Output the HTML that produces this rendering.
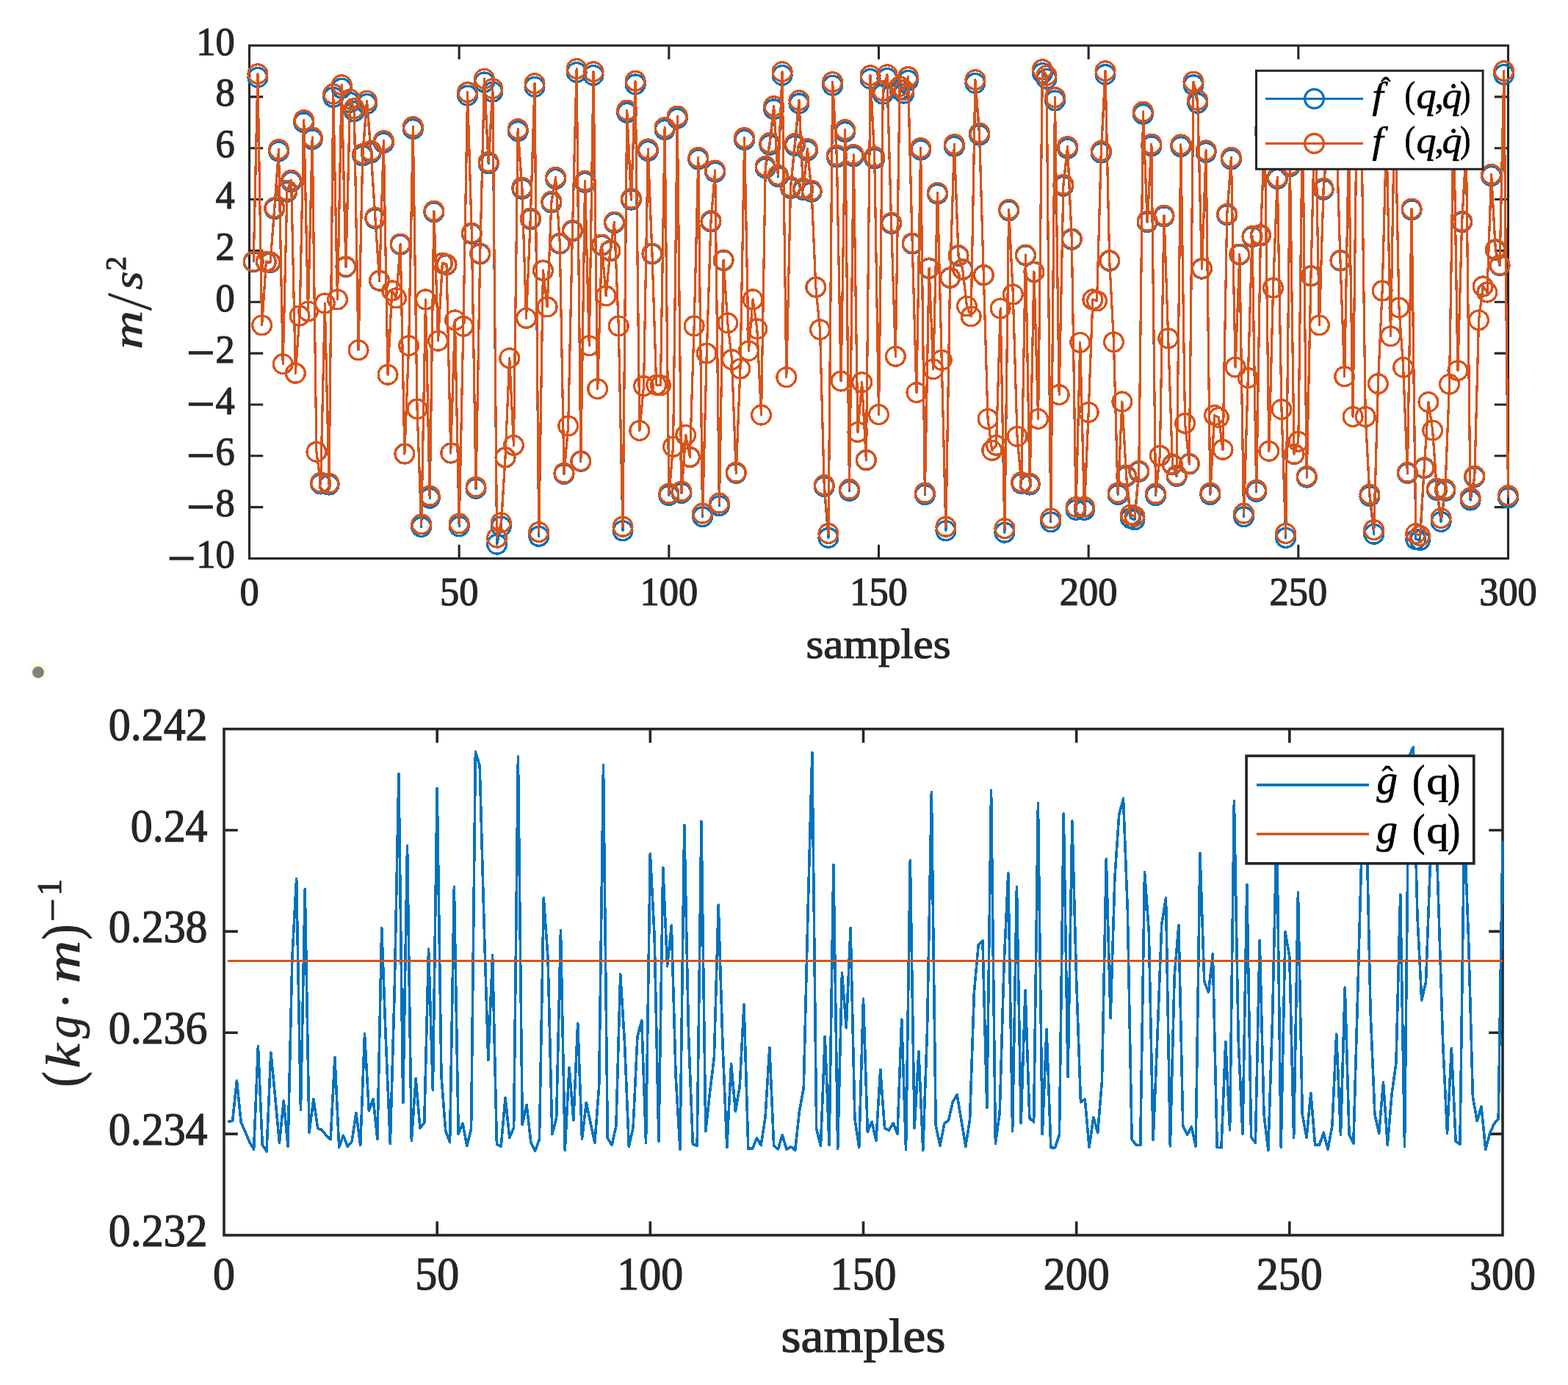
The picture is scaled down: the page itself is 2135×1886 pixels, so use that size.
<!DOCTYPE html>
<html lang="en"><head><meta charset="utf-8"><title>Estimation results</title>
<style>html,body{margin:0;padding:0;background:#fff}body{width:2135px;height:1886px;overflow:hidden}svg{display:block}text{font-family:"Liberation Serif",serif;fill:#262626}.i{font-style:italic}.k{fill:#000;stroke:#000}</style></head><body>
<svg width="2135" height="1886" viewBox="0 0 2135 1886" role="img" aria-label="Estimated and true f and g over 300 samples">
<rect width="2135" height="1886" fill="#fff"/>
<g stroke="#262626" stroke-width="3.1" fill="none" stroke-linecap="butt"><rect x="339.5" y="62" width="1714" height="698.5"/><path d="M625.17 760.5v-18.7 M625.17 62v18.7"/><path d="M910.83 760.5v-18.7 M910.83 62v18.7"/><path d="M1196.5 760.5v-18.7 M1196.5 62v18.7"/><path d="M1482.17 760.5v-18.7 M1482.17 62v18.7"/><path d="M1767.83 760.5v-18.7 M1767.83 62v18.7"/><path d="M339.5 690.65h18.7 M2053.5 690.65h-18.7"/><path d="M339.5 620.8h18.7 M2053.5 620.8h-18.7"/><path d="M339.5 550.95h18.7 M2053.5 550.95h-18.7"/><path d="M339.5 481.1h18.7 M2053.5 481.1h-18.7"/><path d="M339.5 411.25h18.7 M2053.5 411.25h-18.7"/><path d="M339.5 341.4h18.7 M2053.5 341.4h-18.7"/><path d="M339.5 271.55h18.7 M2053.5 271.55h-18.7"/><path d="M339.5 201.7h18.7 M2053.5 201.7h-18.7"/><path d="M339.5 131.85h18.7 M2053.5 131.85h-18.7"/></g>
<g id="top-data" shape-rendering="crispEdges">
<polyline points="345.21,356.71 350.93,105.43 356.64,442.87 362.35,356.71 368.07,357.69 373.78,284.5 379.49,206.18 385.21,495.7 390.92,261.28 396.63,247.5 402.35,508.26 408.06,429.92 413.77,166.83 419.49,423.94 425.2,189.85 430.91,615.36 436.63,659.02 442.34,412.97 448.05,660.06 453.77,132.42 459.48,407.87 465.19,120.21 470.91,363.6 476.62,139.52 482.33,151.73 488.05,476.76 493.76,212.08 499.47,141.49 505.19,208.15 510.9,297.68 516.61,382.29 522.33,194.38 528.04,510.25 533.75,396.06 539.47,405.9 545.18,333.1 550.89,618.07 556.61,470.78 562.32,175.68 568.03,556.89 573.75,717.47 579.46,407.87 585.17,678.38 590.89,288.82 596.6,464.2 602.31,358.68 608.03,360.64 613.74,617.03 619.45,435.9 625.17,716.81 630.88,444.27 636.59,130.06 642.31,318.34 648.02,665.26 653.73,345.89 659.45,111.93 665.16,222.91 670.87,125.13 676.59,741.15 682.3,716.98 688.01,623.05 693.73,487.72 699.44,606.33 705.15,178.63 710.87,257.34 716.58,433.31 722.29,298.66 728.01,118.24 733.72,730.33 739.43,368.51 745.15,417.96 750.86,276.03 756.57,243.57 762.29,332.11 768,645.51 773.71,580.02 779.43,314.8 785.14,98.54 790.85,628.25 796.57,248.49 802.28,470.78 807.99,102.48 813.71,529.58 819.42,334.08 825.13,402.95 830.85,341.95 836.56,303.58 842.27,443.87 847.99,722.73 853.7,153.45 859.41,272.1 865.13,114.89 870.84,586.4 876.55,525.6 882.27,205.59 887.98,345.89 893.69,524.2 899.41,524.6 905.12,176.67 910.83,674.61 916.55,608.32 922.26,161.32 927.97,671.49 933.69,592.38 939.4,622.64 945.11,443.87 950.83,217 956.54,703.63 962.25,481.15 967.97,302.01 973.68,234.32 979.39,688.85 985.11,354.74 990.82,439.88 996.53,489.72 1002.25,644.47 1007.96,502.08 1013.67,190.44 1019.39,477.76 1025.1,407.87 1030.81,447.86 1036.53,565.07 1042.24,228.81 1047.95,197.33 1053.67,148.78 1059.38,240.62 1065.09,102.48 1070.81,513.64 1076.52,256.36 1082.23,198.31 1087.95,140.9 1093.66,258.33 1099.37,205.2 1105.09,261.28 1110.8,391.14 1116.51,448.85 1122.23,662.56 1127.94,732.38 1133.65,116.27 1139.37,214.05 1145.08,519.02 1150.79,179.62 1156.51,668.38 1162.22,213.07 1167.93,588.39 1173.65,520.61 1179.36,626.8 1185.07,107.4 1190.79,216.02 1196.5,564.47 1202.21,128.09 1207.93,106.42 1213.64,304.57 1219.35,485.33 1225.07,122.18 1230.78,127.1 1236.49,109.37 1242.21,332.11 1247.92,534.57 1253.63,204.21 1259.35,673.57 1265.06,365.56 1270.77,502.67 1276.49,264.23 1282.2,490.32 1287.91,722.73 1293.63,378.35 1299.34,199.29 1305.05,348.44 1310.77,367.14 1316.48,416.96 1322.19,430.91 1327.91,113.31 1333.62,183.95 1339.33,374.81 1345.05,570.45 1350.76,613.31 1356.47,606.33 1362.19,419.95 1367.9,725.19 1373.61,286.86 1379.33,400.98 1385.04,594.37 1390.75,658.4 1396.47,347.85 1402.18,660.06 1407.89,370.48 1413.61,570.45 1419.32,99.52 1425.03,107.4 1430.75,710.82 1436.46,136.96 1442.17,537.56 1447.89,253.41 1453.6,202.25 1459.31,326.21 1465.03,694.4 1470.74,466.4 1476.45,694.4 1482.17,561.48 1487.88,407.87 1493.59,409.84 1499.31,208.15 1505.02,101.49 1510.73,355.33 1516.45,465.8 1522.16,673.57 1527.87,546.93 1533.59,648.63 1539.3,705.69 1545.01,707.74 1550.73,642.39 1556.44,155.42 1562.15,302.6 1567.87,198.9 1573.58,674.61 1579.29,620.56 1585.01,294.73 1590.72,460.81 1596.43,633.03 1602.15,648.63 1607.86,199.69 1613.57,576.43 1619.29,631.99 1625,115.68 1630.71,140.5 1636.43,366.15 1642.14,207.56 1647.85,673.57 1653.57,565.47 1659.28,568.46 1664.99,612.31 1670.71,292.76 1676.42,217 1682.13,500.08 1687.85,346.87 1693.56,703.63 1699.27,514.63 1704.99,322.67 1710.7,669.42 1716.41,320.9 1722.13,180.01 1727.84,614.32 1733.55,392.13 1739.27,243.57 1744.98,557.49 1750.69,732.38 1756.41,226.84 1762.12,618.48 1767.83,601.35 1773.55,163.03 1779.26,650.08 1784.97,375.99 1790.69,138.54 1796.4,442.87 1802.11,258.33 1807.83,190.61 1813.54,124.73 1819.25,169.92 1824.97,355.13 1830.68,512.64 1836.39,200.95 1842.11,567.46 1847.82,114.38 1853.53,152.69 1859.25,567.46 1864.96,675.65 1870.67,727.25 1876.39,522.61 1882.1,396.06 1887.81,183.72 1893.53,457.82 1899.24,131.64 1904.95,418.95 1910.67,500.28 1916.38,644.47 1922.09,285.87 1927.81,734.47 1933.52,735.46 1939.23,637.61 1944.95,547.52 1950.66,586 1956.37,667.34 1962.09,710.41 1967.8,668.38 1973.51,523.21 1979.23,159.58 1984.94,504.67 1990.65,302.6 1996.37,204.4 2002.08,681.05 2007.79,649.67 2013.51,435.9 2019.22,390.16 2024.93,398.03 2030.65,239.63 2036.36,340.57 2042.07,361.63 2047.79,101.49 2053.5,677.97" fill="none" stroke="#0072BD" stroke-width="3.2" stroke-linejoin="round"/>
<g fill="none" stroke="#0072BD" stroke-width="3.3"><circle cx="345.21" cy="356.71" r="12.9"/><circle cx="350.93" cy="105.43" r="12.9"/><circle cx="356.64" cy="442.87" r="12.9"/><circle cx="362.35" cy="356.71" r="12.9"/><circle cx="368.07" cy="357.69" r="12.9"/><circle cx="373.78" cy="284.5" r="12.9"/><circle cx="379.49" cy="206.18" r="12.9"/><circle cx="385.21" cy="495.7" r="12.9"/><circle cx="390.92" cy="261.28" r="12.9"/><circle cx="396.63" cy="247.5" r="12.9"/><circle cx="402.35" cy="508.26" r="12.9"/><circle cx="408.06" cy="429.92" r="12.9"/><circle cx="413.77" cy="166.83" r="12.9"/><circle cx="419.49" cy="423.94" r="12.9"/><circle cx="425.2" cy="189.85" r="12.9"/><circle cx="430.91" cy="615.36" r="12.9"/><circle cx="436.63" cy="659.02" r="12.9"/><circle cx="442.34" cy="412.97" r="12.9"/><circle cx="448.05" cy="660.06" r="12.9"/><circle cx="453.77" cy="132.42" r="12.9"/><circle cx="459.48" cy="407.87" r="12.9"/><circle cx="465.19" cy="120.21" r="12.9"/><circle cx="470.91" cy="363.6" r="12.9"/><circle cx="476.62" cy="139.52" r="12.9"/><circle cx="482.33" cy="151.73" r="12.9"/><circle cx="488.05" cy="476.76" r="12.9"/><circle cx="493.76" cy="212.08" r="12.9"/><circle cx="499.47" cy="141.49" r="12.9"/><circle cx="505.19" cy="208.15" r="12.9"/><circle cx="510.9" cy="297.68" r="12.9"/><circle cx="516.61" cy="382.29" r="12.9"/><circle cx="522.33" cy="194.38" r="12.9"/><circle cx="528.04" cy="510.25" r="12.9"/><circle cx="533.75" cy="396.06" r="12.9"/><circle cx="539.47" cy="405.9" r="12.9"/><circle cx="545.18" cy="333.1" r="12.9"/><circle cx="550.89" cy="618.07" r="12.9"/><circle cx="556.61" cy="470.78" r="12.9"/><circle cx="562.32" cy="175.68" r="12.9"/><circle cx="568.03" cy="556.89" r="12.9"/><circle cx="573.75" cy="717.47" r="12.9"/><circle cx="579.46" cy="407.87" r="12.9"/><circle cx="585.17" cy="678.38" r="12.9"/><circle cx="590.89" cy="288.82" r="12.9"/><circle cx="596.6" cy="464.2" r="12.9"/><circle cx="602.31" cy="358.68" r="12.9"/><circle cx="608.03" cy="360.64" r="12.9"/><circle cx="613.74" cy="617.03" r="12.9"/><circle cx="619.45" cy="435.9" r="12.9"/><circle cx="625.17" cy="716.81" r="12.9"/><circle cx="630.88" cy="444.27" r="12.9"/><circle cx="636.59" cy="130.06" r="12.9"/><circle cx="642.31" cy="318.34" r="12.9"/><circle cx="648.02" cy="665.26" r="12.9"/><circle cx="653.73" cy="345.89" r="12.9"/><circle cx="659.45" cy="111.93" r="12.9"/><circle cx="665.16" cy="222.91" r="12.9"/><circle cx="670.87" cy="125.13" r="12.9"/><circle cx="676.59" cy="741.15" r="12.9"/><circle cx="682.3" cy="716.98" r="12.9"/><circle cx="688.01" cy="623.05" r="12.9"/><circle cx="693.73" cy="487.72" r="12.9"/><circle cx="699.44" cy="606.33" r="12.9"/><circle cx="705.15" cy="178.63" r="12.9"/><circle cx="710.87" cy="257.34" r="12.9"/><circle cx="716.58" cy="433.31" r="12.9"/><circle cx="722.29" cy="298.66" r="12.9"/><circle cx="728.01" cy="118.24" r="12.9"/><circle cx="733.72" cy="730.33" r="12.9"/><circle cx="739.43" cy="368.51" r="12.9"/><circle cx="745.15" cy="417.96" r="12.9"/><circle cx="750.86" cy="276.03" r="12.9"/><circle cx="756.57" cy="243.57" r="12.9"/><circle cx="762.29" cy="332.11" r="12.9"/><circle cx="768" cy="645.51" r="12.9"/><circle cx="773.71" cy="580.02" r="12.9"/><circle cx="779.43" cy="314.8" r="12.9"/><circle cx="785.14" cy="98.54" r="12.9"/><circle cx="790.85" cy="628.25" r="12.9"/><circle cx="796.57" cy="248.49" r="12.9"/><circle cx="802.28" cy="470.78" r="12.9"/><circle cx="807.99" cy="102.48" r="12.9"/><circle cx="813.71" cy="529.58" r="12.9"/><circle cx="819.42" cy="334.08" r="12.9"/><circle cx="825.13" cy="402.95" r="12.9"/><circle cx="830.85" cy="341.95" r="12.9"/><circle cx="836.56" cy="303.58" r="12.9"/><circle cx="842.27" cy="443.87" r="12.9"/><circle cx="847.99" cy="722.73" r="12.9"/><circle cx="853.7" cy="153.45" r="12.9"/><circle cx="859.41" cy="272.1" r="12.9"/><circle cx="865.13" cy="114.89" r="12.9"/><circle cx="870.84" cy="586.4" r="12.9"/><circle cx="876.55" cy="525.6" r="12.9"/><circle cx="882.27" cy="205.59" r="12.9"/><circle cx="887.98" cy="345.89" r="12.9"/><circle cx="893.69" cy="524.2" r="12.9"/><circle cx="899.41" cy="524.6" r="12.9"/><circle cx="905.12" cy="176.67" r="12.9"/><circle cx="910.83" cy="674.61" r="12.9"/><circle cx="916.55" cy="608.32" r="12.9"/><circle cx="922.26" cy="161.32" r="12.9"/><circle cx="927.97" cy="671.49" r="12.9"/><circle cx="933.69" cy="592.38" r="12.9"/><circle cx="939.4" cy="622.64" r="12.9"/><circle cx="945.11" cy="443.87" r="12.9"/><circle cx="950.83" cy="217" r="12.9"/><circle cx="956.54" cy="703.63" r="12.9"/><circle cx="962.25" cy="481.15" r="12.9"/><circle cx="967.97" cy="302.01" r="12.9"/><circle cx="973.68" cy="234.32" r="12.9"/><circle cx="979.39" cy="688.85" r="12.9"/><circle cx="985.11" cy="354.74" r="12.9"/><circle cx="990.82" cy="439.88" r="12.9"/><circle cx="996.53" cy="489.72" r="12.9"/><circle cx="1002.25" cy="644.47" r="12.9"/><circle cx="1007.96" cy="502.08" r="12.9"/><circle cx="1013.67" cy="190.44" r="12.9"/><circle cx="1019.39" cy="477.76" r="12.9"/><circle cx="1025.1" cy="407.87" r="12.9"/><circle cx="1030.81" cy="447.86" r="12.9"/><circle cx="1036.53" cy="565.07" r="12.9"/><circle cx="1042.24" cy="228.81" r="12.9"/><circle cx="1047.95" cy="197.33" r="12.9"/><circle cx="1053.67" cy="148.78" r="12.9"/><circle cx="1059.38" cy="240.62" r="12.9"/><circle cx="1065.09" cy="102.48" r="12.9"/><circle cx="1070.81" cy="513.64" r="12.9"/><circle cx="1076.52" cy="256.36" r="12.9"/><circle cx="1082.23" cy="198.31" r="12.9"/><circle cx="1087.95" cy="140.9" r="12.9"/><circle cx="1093.66" cy="258.33" r="12.9"/><circle cx="1099.37" cy="205.2" r="12.9"/><circle cx="1105.09" cy="261.28" r="12.9"/><circle cx="1110.8" cy="391.14" r="12.9"/><circle cx="1116.51" cy="448.85" r="12.9"/><circle cx="1122.23" cy="662.56" r="12.9"/><circle cx="1127.94" cy="732.38" r="12.9"/><circle cx="1133.65" cy="116.27" r="12.9"/><circle cx="1139.37" cy="214.05" r="12.9"/><circle cx="1145.08" cy="519.02" r="12.9"/><circle cx="1150.79" cy="179.62" r="12.9"/><circle cx="1156.51" cy="668.38" r="12.9"/><circle cx="1162.22" cy="213.07" r="12.9"/><circle cx="1167.93" cy="588.39" r="12.9"/><circle cx="1173.65" cy="520.61" r="12.9"/><circle cx="1179.36" cy="626.8" r="12.9"/><circle cx="1185.07" cy="107.4" r="12.9"/><circle cx="1190.79" cy="216.02" r="12.9"/><circle cx="1196.5" cy="564.47" r="12.9"/><circle cx="1202.21" cy="128.09" r="12.9"/><circle cx="1207.93" cy="106.42" r="12.9"/><circle cx="1213.64" cy="304.57" r="12.9"/><circle cx="1219.35" cy="485.33" r="12.9"/><circle cx="1225.07" cy="122.18" r="12.9"/><circle cx="1230.78" cy="127.1" r="12.9"/><circle cx="1236.49" cy="109.37" r="12.9"/><circle cx="1242.21" cy="332.11" r="12.9"/><circle cx="1247.92" cy="534.57" r="12.9"/><circle cx="1253.63" cy="204.21" r="12.9"/><circle cx="1259.35" cy="673.57" r="12.9"/><circle cx="1265.06" cy="365.56" r="12.9"/><circle cx="1270.77" cy="502.67" r="12.9"/><circle cx="1276.49" cy="264.23" r="12.9"/><circle cx="1282.2" cy="490.32" r="12.9"/><circle cx="1287.91" cy="722.73" r="12.9"/><circle cx="1293.63" cy="378.35" r="12.9"/><circle cx="1299.34" cy="199.29" r="12.9"/><circle cx="1305.05" cy="348.44" r="12.9"/><circle cx="1310.77" cy="367.14" r="12.9"/><circle cx="1316.48" cy="416.96" r="12.9"/><circle cx="1322.19" cy="430.91" r="12.9"/><circle cx="1327.91" cy="113.31" r="12.9"/><circle cx="1333.62" cy="183.95" r="12.9"/><circle cx="1339.33" cy="374.81" r="12.9"/><circle cx="1345.05" cy="570.45" r="12.9"/><circle cx="1350.76" cy="613.31" r="12.9"/><circle cx="1356.47" cy="606.33" r="12.9"/><circle cx="1362.19" cy="419.95" r="12.9"/><circle cx="1367.9" cy="725.19" r="12.9"/><circle cx="1373.61" cy="286.86" r="12.9"/><circle cx="1379.33" cy="400.98" r="12.9"/><circle cx="1385.04" cy="594.37" r="12.9"/><circle cx="1390.75" cy="658.4" r="12.9"/><circle cx="1396.47" cy="347.85" r="12.9"/><circle cx="1402.18" cy="660.06" r="12.9"/><circle cx="1407.89" cy="370.48" r="12.9"/><circle cx="1413.61" cy="570.45" r="12.9"/><circle cx="1419.32" cy="99.52" r="12.9"/><circle cx="1425.03" cy="107.4" r="12.9"/><circle cx="1430.75" cy="710.82" r="12.9"/><circle cx="1436.46" cy="136.96" r="12.9"/><circle cx="1442.17" cy="537.56" r="12.9"/><circle cx="1447.89" cy="253.41" r="12.9"/><circle cx="1453.6" cy="202.25" r="12.9"/><circle cx="1459.31" cy="326.21" r="12.9"/><circle cx="1465.03" cy="694.4" r="12.9"/><circle cx="1470.74" cy="466.4" r="12.9"/><circle cx="1476.45" cy="694.4" r="12.9"/><circle cx="1482.17" cy="561.48" r="12.9"/><circle cx="1487.88" cy="407.87" r="12.9"/><circle cx="1493.59" cy="409.84" r="12.9"/><circle cx="1499.31" cy="208.15" r="12.9"/><circle cx="1505.02" cy="101.49" r="12.9"/><circle cx="1510.73" cy="355.33" r="12.9"/><circle cx="1516.45" cy="465.8" r="12.9"/><circle cx="1522.16" cy="673.57" r="12.9"/><circle cx="1527.87" cy="546.93" r="12.9"/><circle cx="1533.59" cy="648.63" r="12.9"/><circle cx="1539.3" cy="705.69" r="12.9"/><circle cx="1545.01" cy="707.74" r="12.9"/><circle cx="1550.73" cy="642.39" r="12.9"/><circle cx="1556.44" cy="155.42" r="12.9"/><circle cx="1562.15" cy="302.6" r="12.9"/><circle cx="1567.87" cy="198.9" r="12.9"/><circle cx="1573.58" cy="674.61" r="12.9"/><circle cx="1579.29" cy="620.56" r="12.9"/><circle cx="1585.01" cy="294.73" r="12.9"/><circle cx="1590.72" cy="460.81" r="12.9"/><circle cx="1596.43" cy="633.03" r="12.9"/><circle cx="1602.15" cy="648.63" r="12.9"/><circle cx="1607.86" cy="199.69" r="12.9"/><circle cx="1613.57" cy="576.43" r="12.9"/><circle cx="1619.29" cy="631.99" r="12.9"/><circle cx="1625" cy="115.68" r="12.9"/><circle cx="1630.71" cy="140.5" r="12.9"/><circle cx="1636.43" cy="366.15" r="12.9"/><circle cx="1642.14" cy="207.56" r="12.9"/><circle cx="1647.85" cy="673.57" r="12.9"/><circle cx="1653.57" cy="565.47" r="12.9"/><circle cx="1659.28" cy="568.46" r="12.9"/><circle cx="1664.99" cy="612.31" r="12.9"/><circle cx="1670.71" cy="292.76" r="12.9"/><circle cx="1676.42" cy="217" r="12.9"/><circle cx="1682.13" cy="500.08" r="12.9"/><circle cx="1687.85" cy="346.87" r="12.9"/><circle cx="1693.56" cy="703.63" r="12.9"/><circle cx="1699.27" cy="514.63" r="12.9"/><circle cx="1704.99" cy="322.67" r="12.9"/><circle cx="1710.7" cy="669.42" r="12.9"/><circle cx="1716.41" cy="320.9" r="12.9"/><circle cx="1722.13" cy="180.01" r="12.9"/><circle cx="1727.84" cy="614.32" r="12.9"/><circle cx="1733.55" cy="392.13" r="12.9"/><circle cx="1739.27" cy="243.57" r="12.9"/><circle cx="1744.98" cy="557.49" r="12.9"/><circle cx="1750.69" cy="732.38" r="12.9"/><circle cx="1756.41" cy="226.84" r="12.9"/><circle cx="1762.12" cy="618.48" r="12.9"/><circle cx="1767.83" cy="601.35" r="12.9"/><circle cx="1773.55" cy="163.03" r="12.9"/><circle cx="1779.26" cy="650.08" r="12.9"/><circle cx="1784.97" cy="375.99" r="12.9"/><circle cx="1790.69" cy="138.54" r="12.9"/><circle cx="1796.4" cy="442.87" r="12.9"/><circle cx="1802.11" cy="258.33" r="12.9"/><circle cx="1807.83" cy="190.61" r="12.9"/><circle cx="1813.54" cy="124.73" r="12.9"/><circle cx="1819.25" cy="169.92" r="12.9"/><circle cx="1824.97" cy="355.13" r="12.9"/><circle cx="1830.68" cy="512.64" r="12.9"/><circle cx="1836.39" cy="200.95" r="12.9"/><circle cx="1842.11" cy="567.46" r="12.9"/><circle cx="1847.82" cy="114.38" r="12.9"/><circle cx="1853.53" cy="152.69" r="12.9"/><circle cx="1859.25" cy="567.46" r="12.9"/><circle cx="1864.96" cy="675.65" r="12.9"/><circle cx="1870.67" cy="727.25" r="12.9"/><circle cx="1876.39" cy="522.61" r="12.9"/><circle cx="1882.1" cy="396.06" r="12.9"/><circle cx="1887.81" cy="183.72" r="12.9"/><circle cx="1893.53" cy="457.82" r="12.9"/><circle cx="1899.24" cy="131.64" r="12.9"/><circle cx="1904.95" cy="418.95" r="12.9"/><circle cx="1910.67" cy="500.28" r="12.9"/><circle cx="1916.38" cy="644.47" r="12.9"/><circle cx="1922.09" cy="285.87" r="12.9"/><circle cx="1927.81" cy="734.47" r="12.9"/><circle cx="1933.52" cy="735.46" r="12.9"/><circle cx="1939.23" cy="637.61" r="12.9"/><circle cx="1944.95" cy="547.52" r="12.9"/><circle cx="1950.66" cy="586" r="12.9"/><circle cx="1956.37" cy="667.34" r="12.9"/><circle cx="1962.09" cy="710.41" r="12.9"/><circle cx="1967.8" cy="668.38" r="12.9"/><circle cx="1973.51" cy="523.21" r="12.9"/><circle cx="1979.23" cy="159.58" r="12.9"/><circle cx="1984.94" cy="504.67" r="12.9"/><circle cx="1990.65" cy="302.6" r="12.9"/><circle cx="1996.37" cy="204.4" r="12.9"/><circle cx="2002.08" cy="681.05" r="12.9"/><circle cx="2007.79" cy="649.67" r="12.9"/><circle cx="2013.51" cy="435.9" r="12.9"/><circle cx="2019.22" cy="390.16" r="12.9"/><circle cx="2024.93" cy="398.03" r="12.9"/><circle cx="2030.65" cy="239.63" r="12.9"/><circle cx="2036.36" cy="340.57" r="12.9"/><circle cx="2042.07" cy="361.63" r="12.9"/><circle cx="2047.79" cy="101.49" r="12.9"/><circle cx="2053.5" cy="677.97" r="12.9"/></g>
<polyline points="345.21,356 350.93,100.65 356.64,442.87 362.35,356 368.07,356.99 373.78,282.84 379.49,203.5 385.21,495.7 390.92,259.32 396.63,245.37 402.35,508.26 408.06,429.92 413.77,163.64 419.49,423.94 425.2,186.96 430.91,615.3 436.63,657.16 442.34,412.97 448.05,658.16 453.77,128.06 459.48,407.82 465.19,115.66 470.91,362.97 476.62,135.27 482.33,147.67 488.05,476.76 493.76,209.49 499.47,137.27 505.19,205.5 510.9,296.2 516.61,381.91 522.33,191.54 528.04,510.25 533.75,395.86 539.47,405.83 545.18,332.08 550.89,617.89 556.61,470.78 562.32,172.61 568.03,556.89 573.75,713.87 579.46,407.82 585.17,675.15 590.89,287.23 596.6,464.2 602.31,357.99 608.03,359.98 613.74,616.89 619.45,435.9 625.17,712.97 630.88,444.27 636.59,125.66 642.31,317.13 648.02,663.14 653.73,345.03 659.45,107.25 665.16,220.45 670.87,120.66 676.59,732.15 682.3,711.82 688.01,622.67 693.73,487.72 699.44,606.33 705.15,175.6 710.87,255.33 716.58,433.31 722.29,297.19 728.01,113.65 733.72,724.5 739.43,367.96 745.15,417.96 750.86,274.27 756.57,241.38 762.29,331.08 768,644.2 773.71,580.02 779.43,313.54 785.14,93.64 790.85,627.66 796.57,246.36 802.28,470.78 807.99,97.65 813.71,529.58 819.42,333.07 825.13,402.84 830.85,341.05 836.56,302.18 842.27,443.87 847.99,717.28 853.7,150.08 859.41,270.28 865.13,110.25 870.84,586.4 876.55,525.6 882.27,202.91 887.98,345.03 893.69,524.2 899.41,524.6 905.12,173.6 910.83,672.11 916.55,608.32 922.26,158.06 927.97,669.12 933.69,592.38 939.4,622.28 945.11,443.87 950.83,214.47 956.54,699.14 962.25,481.15 967.97,300.58 973.68,232.01 979.39,685.1 985.11,354 990.82,439.88 996.53,489.72 1002.25,643.21 1007.96,502.08 1013.67,187.56 1019.39,477.76 1025.1,407.82 1030.81,447.86 1036.53,565.07 1042.24,226.43 1047.95,194.53 1053.67,144.67 1059.38,238.39 1065.09,97.65 1070.81,513.64 1076.52,254.34 1082.23,195.53 1087.95,136.67 1093.66,256.33 1099.37,202.51 1105.09,259.32 1110.8,390.88 1116.51,448.85 1122.23,660.55 1127.94,726.45 1133.65,111.65 1139.37,211.48 1145.08,519.02 1150.79,176.59 1156.51,666.13 1162.22,210.48 1167.93,588.39 1173.65,520.61 1179.36,626.26 1185.07,102.65 1190.79,213.47 1196.5,564.47 1202.21,123.66 1207.93,101.65 1213.64,303.17 1219.35,485.33 1225.07,117.66 1230.78,122.66 1236.49,104.65 1242.21,331.08 1247.92,534.57 1253.63,201.51 1259.35,671.11 1265.06,364.97 1270.77,502.67 1276.49,262.31 1282.2,490.32 1287.91,717.28 1293.63,377.92 1299.34,196.53 1305.05,347.62 1310.77,366.56 1316.48,416.96 1322.19,430.91 1327.91,108.65 1333.62,180.98 1339.33,374.34 1345.05,570.45 1350.76,613.31 1356.47,606.33 1362.19,419.95 1367.9,719.62 1373.61,285.23 1379.33,400.85 1385.04,594.37 1390.75,656.56 1396.47,347.03 1402.18,658.16 1407.89,369.95 1413.61,570.45 1419.32,94.64 1425.03,102.65 1430.75,705.97 1436.46,132.66 1442.17,537.56 1447.89,251.35 1453.6,199.52 1459.31,325.1 1465.03,690.36 1470.74,466.4 1476.45,690.36 1482.17,561.48 1487.88,407.82 1493.59,409.82 1499.31,205.5 1505.02,96.65 1510.73,354.6 1516.45,465.8 1522.16,671.11 1527.87,546.93 1533.59,647.19 1539.3,701.09 1545.01,703.04 1550.73,641.21 1556.44,152.08 1562.15,301.18 1567.87,196.13 1573.58,672.11 1579.29,620.28 1585.01,293.21 1590.72,460.81 1596.43,632.24 1602.15,647.19 1607.86,196.93 1613.57,576.43 1619.29,631.25 1625,111.05 1630.71,136.27 1636.43,365.56 1642.14,204.9 1647.85,671.11 1653.57,565.47 1659.28,568.46 1664.99,612.31 1670.71,291.21 1676.42,214.47 1682.13,500.08 1687.85,346.03 1693.56,699.14 1699.27,514.63 1704.99,321.51 1710.7,667.13 1716.41,319.72 1722.13,176.99 1727.84,614.3 1733.55,391.88 1739.27,241.38 1744.98,557.49 1750.69,726.45 1756.41,224.44 1762.12,618.29 1767.83,601.35 1773.55,159.79 1779.26,648.59 1784.97,375.53 1790.69,134.28 1796.4,442.87 1802.11,256.33 1807.83,187.73 1813.54,120.25 1819.25,166.77 1824.97,354.4 1830.68,512.64 1836.39,198.21 1842.11,567.46 1847.82,109.73 1853.53,149.31 1859.25,567.46 1864.96,673.11 1870.67,721.57 1876.39,522.61 1882.1,395.86 1887.81,180.75 1893.53,457.82 1899.24,127.26 1904.95,418.95 1910.67,500.28 1916.38,643.21 1922.09,284.24 1927.81,726.67 1933.52,729.37 1939.23,636.63 1944.95,547.52 1950.66,586 1956.37,665.13 1962.09,705.58 1967.8,666.13 1973.51,523.21 1979.23,156.3 1984.94,504.67 1990.65,301.18 1996.37,201.7 2002.08,677.68 2007.79,648.19 2013.51,435.9 2019.22,389.88 2024.93,397.86 2030.65,237.39 2036.36,339.65 2042.07,360.98 2047.79,96.65 2053.5,674.76" fill="none" stroke="#D95319" stroke-width="3.2" stroke-linejoin="round"/>
<g fill="none" stroke="#D95319" stroke-width="3.3"><circle cx="345.21" cy="356" r="12.9"/><circle cx="350.93" cy="100.65" r="12.9"/><circle cx="356.64" cy="442.87" r="12.9"/><circle cx="362.35" cy="356" r="12.9"/><circle cx="368.07" cy="356.99" r="12.9"/><circle cx="373.78" cy="282.84" r="12.9"/><circle cx="379.49" cy="203.5" r="12.9"/><circle cx="385.21" cy="495.7" r="12.9"/><circle cx="390.92" cy="259.32" r="12.9"/><circle cx="396.63" cy="245.37" r="12.9"/><circle cx="402.35" cy="508.26" r="12.9"/><circle cx="408.06" cy="429.92" r="12.9"/><circle cx="413.77" cy="163.64" r="12.9"/><circle cx="419.49" cy="423.94" r="12.9"/><circle cx="425.2" cy="186.96" r="12.9"/><circle cx="430.91" cy="615.3" r="12.9"/><circle cx="436.63" cy="657.16" r="12.9"/><circle cx="442.34" cy="412.97" r="12.9"/><circle cx="448.05" cy="658.16" r="12.9"/><circle cx="453.77" cy="128.06" r="12.9"/><circle cx="459.48" cy="407.82" r="12.9"/><circle cx="465.19" cy="115.66" r="12.9"/><circle cx="470.91" cy="362.97" r="12.9"/><circle cx="476.62" cy="135.27" r="12.9"/><circle cx="482.33" cy="147.67" r="12.9"/><circle cx="488.05" cy="476.76" r="12.9"/><circle cx="493.76" cy="209.49" r="12.9"/><circle cx="499.47" cy="137.27" r="12.9"/><circle cx="505.19" cy="205.5" r="12.9"/><circle cx="510.9" cy="296.2" r="12.9"/><circle cx="516.61" cy="381.91" r="12.9"/><circle cx="522.33" cy="191.54" r="12.9"/><circle cx="528.04" cy="510.25" r="12.9"/><circle cx="533.75" cy="395.86" r="12.9"/><circle cx="539.47" cy="405.83" r="12.9"/><circle cx="545.18" cy="332.08" r="12.9"/><circle cx="550.89" cy="617.89" r="12.9"/><circle cx="556.61" cy="470.78" r="12.9"/><circle cx="562.32" cy="172.61" r="12.9"/><circle cx="568.03" cy="556.89" r="12.9"/><circle cx="573.75" cy="713.87" r="12.9"/><circle cx="579.46" cy="407.82" r="12.9"/><circle cx="585.17" cy="675.15" r="12.9"/><circle cx="590.89" cy="287.23" r="12.9"/><circle cx="596.6" cy="464.2" r="12.9"/><circle cx="602.31" cy="357.99" r="12.9"/><circle cx="608.03" cy="359.98" r="12.9"/><circle cx="613.74" cy="616.89" r="12.9"/><circle cx="619.45" cy="435.9" r="12.9"/><circle cx="625.17" cy="712.97" r="12.9"/><circle cx="630.88" cy="444.27" r="12.9"/><circle cx="636.59" cy="125.66" r="12.9"/><circle cx="642.31" cy="317.13" r="12.9"/><circle cx="648.02" cy="663.14" r="12.9"/><circle cx="653.73" cy="345.03" r="12.9"/><circle cx="659.45" cy="107.25" r="12.9"/><circle cx="665.16" cy="220.45" r="12.9"/><circle cx="670.87" cy="120.66" r="12.9"/><circle cx="676.59" cy="732.15" r="12.9"/><circle cx="682.3" cy="711.82" r="12.9"/><circle cx="688.01" cy="622.67" r="12.9"/><circle cx="693.73" cy="487.72" r="12.9"/><circle cx="699.44" cy="606.33" r="12.9"/><circle cx="705.15" cy="175.6" r="12.9"/><circle cx="710.87" cy="255.33" r="12.9"/><circle cx="716.58" cy="433.31" r="12.9"/><circle cx="722.29" cy="297.19" r="12.9"/><circle cx="728.01" cy="113.65" r="12.9"/><circle cx="733.72" cy="724.5" r="12.9"/><circle cx="739.43" cy="367.96" r="12.9"/><circle cx="745.15" cy="417.96" r="12.9"/><circle cx="750.86" cy="274.27" r="12.9"/><circle cx="756.57" cy="241.38" r="12.9"/><circle cx="762.29" cy="331.08" r="12.9"/><circle cx="768" cy="644.2" r="12.9"/><circle cx="773.71" cy="580.02" r="12.9"/><circle cx="779.43" cy="313.54" r="12.9"/><circle cx="785.14" cy="93.64" r="12.9"/><circle cx="790.85" cy="627.66" r="12.9"/><circle cx="796.57" cy="246.36" r="12.9"/><circle cx="802.28" cy="470.78" r="12.9"/><circle cx="807.99" cy="97.65" r="12.9"/><circle cx="813.71" cy="529.58" r="12.9"/><circle cx="819.42" cy="333.07" r="12.9"/><circle cx="825.13" cy="402.84" r="12.9"/><circle cx="830.85" cy="341.05" r="12.9"/><circle cx="836.56" cy="302.18" r="12.9"/><circle cx="842.27" cy="443.87" r="12.9"/><circle cx="847.99" cy="717.28" r="12.9"/><circle cx="853.7" cy="150.08" r="12.9"/><circle cx="859.41" cy="270.28" r="12.9"/><circle cx="865.13" cy="110.25" r="12.9"/><circle cx="870.84" cy="586.4" r="12.9"/><circle cx="876.55" cy="525.6" r="12.9"/><circle cx="882.27" cy="202.91" r="12.9"/><circle cx="887.98" cy="345.03" r="12.9"/><circle cx="893.69" cy="524.2" r="12.9"/><circle cx="899.41" cy="524.6" r="12.9"/><circle cx="905.12" cy="173.6" r="12.9"/><circle cx="910.83" cy="672.11" r="12.9"/><circle cx="916.55" cy="608.32" r="12.9"/><circle cx="922.26" cy="158.06" r="12.9"/><circle cx="927.97" cy="669.12" r="12.9"/><circle cx="933.69" cy="592.38" r="12.9"/><circle cx="939.4" cy="622.28" r="12.9"/><circle cx="945.11" cy="443.87" r="12.9"/><circle cx="950.83" cy="214.47" r="12.9"/><circle cx="956.54" cy="699.14" r="12.9"/><circle cx="962.25" cy="481.15" r="12.9"/><circle cx="967.97" cy="300.58" r="12.9"/><circle cx="973.68" cy="232.01" r="12.9"/><circle cx="979.39" cy="685.1" r="12.9"/><circle cx="985.11" cy="354" r="12.9"/><circle cx="990.82" cy="439.88" r="12.9"/><circle cx="996.53" cy="489.72" r="12.9"/><circle cx="1002.25" cy="643.21" r="12.9"/><circle cx="1007.96" cy="502.08" r="12.9"/><circle cx="1013.67" cy="187.56" r="12.9"/><circle cx="1019.39" cy="477.76" r="12.9"/><circle cx="1025.1" cy="407.82" r="12.9"/><circle cx="1030.81" cy="447.86" r="12.9"/><circle cx="1036.53" cy="565.07" r="12.9"/><circle cx="1042.24" cy="226.43" r="12.9"/><circle cx="1047.95" cy="194.53" r="12.9"/><circle cx="1053.67" cy="144.67" r="12.9"/><circle cx="1059.38" cy="238.39" r="12.9"/><circle cx="1065.09" cy="97.65" r="12.9"/><circle cx="1070.81" cy="513.64" r="12.9"/><circle cx="1076.52" cy="254.34" r="12.9"/><circle cx="1082.23" cy="195.53" r="12.9"/><circle cx="1087.95" cy="136.67" r="12.9"/><circle cx="1093.66" cy="256.33" r="12.9"/><circle cx="1099.37" cy="202.51" r="12.9"/><circle cx="1105.09" cy="259.32" r="12.9"/><circle cx="1110.8" cy="390.88" r="12.9"/><circle cx="1116.51" cy="448.85" r="12.9"/><circle cx="1122.23" cy="660.55" r="12.9"/><circle cx="1127.94" cy="726.45" r="12.9"/><circle cx="1133.65" cy="111.65" r="12.9"/><circle cx="1139.37" cy="211.48" r="12.9"/><circle cx="1145.08" cy="519.02" r="12.9"/><circle cx="1150.79" cy="176.59" r="12.9"/><circle cx="1156.51" cy="666.13" r="12.9"/><circle cx="1162.22" cy="210.48" r="12.9"/><circle cx="1167.93" cy="588.39" r="12.9"/><circle cx="1173.65" cy="520.61" r="12.9"/><circle cx="1179.36" cy="626.26" r="12.9"/><circle cx="1185.07" cy="102.65" r="12.9"/><circle cx="1190.79" cy="213.47" r="12.9"/><circle cx="1196.5" cy="564.47" r="12.9"/><circle cx="1202.21" cy="123.66" r="12.9"/><circle cx="1207.93" cy="101.65" r="12.9"/><circle cx="1213.64" cy="303.17" r="12.9"/><circle cx="1219.35" cy="485.33" r="12.9"/><circle cx="1225.07" cy="117.66" r="12.9"/><circle cx="1230.78" cy="122.66" r="12.9"/><circle cx="1236.49" cy="104.65" r="12.9"/><circle cx="1242.21" cy="331.08" r="12.9"/><circle cx="1247.92" cy="534.57" r="12.9"/><circle cx="1253.63" cy="201.51" r="12.9"/><circle cx="1259.35" cy="671.11" r="12.9"/><circle cx="1265.06" cy="364.97" r="12.9"/><circle cx="1270.77" cy="502.67" r="12.9"/><circle cx="1276.49" cy="262.31" r="12.9"/><circle cx="1282.2" cy="490.32" r="12.9"/><circle cx="1287.91" cy="717.28" r="12.9"/><circle cx="1293.63" cy="377.92" r="12.9"/><circle cx="1299.34" cy="196.53" r="12.9"/><circle cx="1305.05" cy="347.62" r="12.9"/><circle cx="1310.77" cy="366.56" r="12.9"/><circle cx="1316.48" cy="416.96" r="12.9"/><circle cx="1322.19" cy="430.91" r="12.9"/><circle cx="1327.91" cy="108.65" r="12.9"/><circle cx="1333.62" cy="180.98" r="12.9"/><circle cx="1339.33" cy="374.34" r="12.9"/><circle cx="1345.05" cy="570.45" r="12.9"/><circle cx="1350.76" cy="613.31" r="12.9"/><circle cx="1356.47" cy="606.33" r="12.9"/><circle cx="1362.19" cy="419.95" r="12.9"/><circle cx="1367.9" cy="719.62" r="12.9"/><circle cx="1373.61" cy="285.23" r="12.9"/><circle cx="1379.33" cy="400.85" r="12.9"/><circle cx="1385.04" cy="594.37" r="12.9"/><circle cx="1390.75" cy="656.56" r="12.9"/><circle cx="1396.47" cy="347.03" r="12.9"/><circle cx="1402.18" cy="658.16" r="12.9"/><circle cx="1407.89" cy="369.95" r="12.9"/><circle cx="1413.61" cy="570.45" r="12.9"/><circle cx="1419.32" cy="94.64" r="12.9"/><circle cx="1425.03" cy="102.65" r="12.9"/><circle cx="1430.75" cy="705.97" r="12.9"/><circle cx="1436.46" cy="132.66" r="12.9"/><circle cx="1442.17" cy="537.56" r="12.9"/><circle cx="1447.89" cy="251.35" r="12.9"/><circle cx="1453.6" cy="199.52" r="12.9"/><circle cx="1459.31" cy="325.1" r="12.9"/><circle cx="1465.03" cy="690.36" r="12.9"/><circle cx="1470.74" cy="466.4" r="12.9"/><circle cx="1476.45" cy="690.36" r="12.9"/><circle cx="1482.17" cy="561.48" r="12.9"/><circle cx="1487.88" cy="407.82" r="12.9"/><circle cx="1493.59" cy="409.82" r="12.9"/><circle cx="1499.31" cy="205.5" r="12.9"/><circle cx="1505.02" cy="96.65" r="12.9"/><circle cx="1510.73" cy="354.6" r="12.9"/><circle cx="1516.45" cy="465.8" r="12.9"/><circle cx="1522.16" cy="671.11" r="12.9"/><circle cx="1527.87" cy="546.93" r="12.9"/><circle cx="1533.59" cy="647.19" r="12.9"/><circle cx="1539.3" cy="701.09" r="12.9"/><circle cx="1545.01" cy="703.04" r="12.9"/><circle cx="1550.73" cy="641.21" r="12.9"/><circle cx="1556.44" cy="152.08" r="12.9"/><circle cx="1562.15" cy="301.18" r="12.9"/><circle cx="1567.87" cy="196.13" r="12.9"/><circle cx="1573.58" cy="672.11" r="12.9"/><circle cx="1579.29" cy="620.28" r="12.9"/><circle cx="1585.01" cy="293.21" r="12.9"/><circle cx="1590.72" cy="460.81" r="12.9"/><circle cx="1596.43" cy="632.24" r="12.9"/><circle cx="1602.15" cy="647.19" r="12.9"/><circle cx="1607.86" cy="196.93" r="12.9"/><circle cx="1613.57" cy="576.43" r="12.9"/><circle cx="1619.29" cy="631.25" r="12.9"/><circle cx="1625" cy="111.05" r="12.9"/><circle cx="1630.71" cy="136.27" r="12.9"/><circle cx="1636.43" cy="365.56" r="12.9"/><circle cx="1642.14" cy="204.9" r="12.9"/><circle cx="1647.85" cy="671.11" r="12.9"/><circle cx="1653.57" cy="565.47" r="12.9"/><circle cx="1659.28" cy="568.46" r="12.9"/><circle cx="1664.99" cy="612.31" r="12.9"/><circle cx="1670.71" cy="291.21" r="12.9"/><circle cx="1676.42" cy="214.47" r="12.9"/><circle cx="1682.13" cy="500.08" r="12.9"/><circle cx="1687.85" cy="346.03" r="12.9"/><circle cx="1693.56" cy="699.14" r="12.9"/><circle cx="1699.27" cy="514.63" r="12.9"/><circle cx="1704.99" cy="321.51" r="12.9"/><circle cx="1710.7" cy="667.13" r="12.9"/><circle cx="1716.41" cy="319.72" r="12.9"/><circle cx="1722.13" cy="176.99" r="12.9"/><circle cx="1727.84" cy="614.3" r="12.9"/><circle cx="1733.55" cy="391.88" r="12.9"/><circle cx="1739.27" cy="241.38" r="12.9"/><circle cx="1744.98" cy="557.49" r="12.9"/><circle cx="1750.69" cy="726.45" r="12.9"/><circle cx="1756.41" cy="224.44" r="12.9"/><circle cx="1762.12" cy="618.29" r="12.9"/><circle cx="1767.83" cy="601.35" r="12.9"/><circle cx="1773.55" cy="159.79" r="12.9"/><circle cx="1779.26" cy="648.59" r="12.9"/><circle cx="1784.97" cy="375.53" r="12.9"/><circle cx="1790.69" cy="134.28" r="12.9"/><circle cx="1796.4" cy="442.87" r="12.9"/><circle cx="1802.11" cy="256.33" r="12.9"/><circle cx="1807.83" cy="187.73" r="12.9"/><circle cx="1813.54" cy="120.25" r="12.9"/><circle cx="1819.25" cy="166.77" r="12.9"/><circle cx="1824.97" cy="354.4" r="12.9"/><circle cx="1830.68" cy="512.64" r="12.9"/><circle cx="1836.39" cy="198.21" r="12.9"/><circle cx="1842.11" cy="567.46" r="12.9"/><circle cx="1847.82" cy="109.73" r="12.9"/><circle cx="1853.53" cy="149.31" r="12.9"/><circle cx="1859.25" cy="567.46" r="12.9"/><circle cx="1864.96" cy="673.11" r="12.9"/><circle cx="1870.67" cy="721.57" r="12.9"/><circle cx="1876.39" cy="522.61" r="12.9"/><circle cx="1882.1" cy="395.86" r="12.9"/><circle cx="1887.81" cy="180.75" r="12.9"/><circle cx="1893.53" cy="457.82" r="12.9"/><circle cx="1899.24" cy="127.26" r="12.9"/><circle cx="1904.95" cy="418.95" r="12.9"/><circle cx="1910.67" cy="500.28" r="12.9"/><circle cx="1916.38" cy="643.21" r="12.9"/><circle cx="1922.09" cy="284.24" r="12.9"/><circle cx="1927.81" cy="726.67" r="12.9"/><circle cx="1933.52" cy="729.37" r="12.9"/><circle cx="1939.23" cy="636.63" r="12.9"/><circle cx="1944.95" cy="547.52" r="12.9"/><circle cx="1950.66" cy="586" r="12.9"/><circle cx="1956.37" cy="665.13" r="12.9"/><circle cx="1962.09" cy="705.58" r="12.9"/><circle cx="1967.8" cy="666.13" r="12.9"/><circle cx="1973.51" cy="523.21" r="12.9"/><circle cx="1979.23" cy="156.3" r="12.9"/><circle cx="1984.94" cy="504.67" r="12.9"/><circle cx="1990.65" cy="301.18" r="12.9"/><circle cx="1996.37" cy="201.7" r="12.9"/><circle cx="2002.08" cy="677.68" r="12.9"/><circle cx="2007.79" cy="648.19" r="12.9"/><circle cx="2013.51" cy="435.9" r="12.9"/><circle cx="2019.22" cy="389.88" r="12.9"/><circle cx="2024.93" cy="397.86" r="12.9"/><circle cx="2030.65" cy="237.39" r="12.9"/><circle cx="2036.36" cy="339.65" r="12.9"/><circle cx="2042.07" cy="360.98" r="12.9"/><circle cx="2047.79" cy="96.65" r="12.9"/><circle cx="2053.5" cy="674.76" r="12.9"/></g>
</g>
<text transform="translate(339.5 824.3) scale(0.9660 1)" font-size="54.3" text-anchor="middle" stroke="#262626" stroke-width="1.2">0</text>
<text transform="translate(625.17 824.3) scale(0.9660 1)" font-size="54.3" text-anchor="middle" stroke="#262626" stroke-width="1.2">50</text>
<text transform="translate(910.83 824.3) scale(0.9660 1)" font-size="54.3" text-anchor="middle" stroke="#262626" stroke-width="1.2">100</text>
<text transform="translate(1196.5 824.3) scale(0.9660 1)" font-size="54.3" text-anchor="middle" stroke="#262626" stroke-width="1.2">150</text>
<text transform="translate(1482.17 824.3) scale(0.9660 1)" font-size="54.3" text-anchor="middle" stroke="#262626" stroke-width="1.2">200</text>
<text transform="translate(1767.83 824.3) scale(0.9660 1)" font-size="54.3" text-anchor="middle" stroke="#262626" stroke-width="1.2">250</text>
<text transform="translate(2053.5 824.3) scale(0.9660 1)" font-size="54.3" text-anchor="middle" stroke="#262626" stroke-width="1.2">300</text>
<text transform="translate(319.8 773.1) scale(0.9660 1)" font-size="54.3" text-anchor="end" stroke="#262626" stroke-width="1.2">10</text>
<text transform="translate(266.2 780.6) scale(1.2500 1.15)" font-size="54.3" text-anchor="end" stroke="#262626" stroke-width="1.2">−</text>
<text transform="translate(319.8 703.25) scale(0.9660 1)" font-size="54.3" text-anchor="end" stroke="#262626" stroke-width="1.2">8</text>
<text transform="translate(292.6 710.75) scale(1.2500 1.15)" font-size="54.3" text-anchor="end" stroke="#262626" stroke-width="1.2">−</text>
<text transform="translate(319.8 633.4) scale(0.9660 1)" font-size="54.3" text-anchor="end" stroke="#262626" stroke-width="1.2">6</text>
<text transform="translate(292.6 640.9) scale(1.2500 1.15)" font-size="54.3" text-anchor="end" stroke="#262626" stroke-width="1.2">−</text>
<text transform="translate(319.8 563.55) scale(0.9660 1)" font-size="54.3" text-anchor="end" stroke="#262626" stroke-width="1.2">4</text>
<text transform="translate(292.6 571.05) scale(1.2500 1.15)" font-size="54.3" text-anchor="end" stroke="#262626" stroke-width="1.2">−</text>
<text transform="translate(319.8 493.7) scale(0.9660 1)" font-size="54.3" text-anchor="end" stroke="#262626" stroke-width="1.2">2</text>
<text transform="translate(292.6 501.2) scale(1.2500 1.15)" font-size="54.3" text-anchor="end" stroke="#262626" stroke-width="1.2">−</text>
<text transform="translate(319.8 423.85) scale(0.9660 1)" font-size="54.3" text-anchor="end" stroke="#262626" stroke-width="1.2">0</text>
<text transform="translate(319.8 354) scale(0.9660 1)" font-size="54.3" text-anchor="end" stroke="#262626" stroke-width="1.2">2</text>
<text transform="translate(319.8 284.15) scale(0.9660 1)" font-size="54.3" text-anchor="end" stroke="#262626" stroke-width="1.2">4</text>
<text transform="translate(319.8 214.3) scale(0.9660 1)" font-size="54.3" text-anchor="end" stroke="#262626" stroke-width="1.2">6</text>
<text transform="translate(319.8 144.45) scale(0.9660 1)" font-size="54.3" text-anchor="end" stroke="#262626" stroke-width="1.2">8</text>
<text transform="translate(319.8 74.6) scale(0.9660 1)" font-size="54.3" text-anchor="end" stroke="#262626" stroke-width="1.2">10</text>
<text transform="translate(1196 896.3) scale(1.0700 1)" font-size="57.2" text-anchor="middle" stroke="#262626" stroke-width="1.2">samples</text>
<g transform="translate(193.2 475.5) rotate(-90)">
<text transform="translate(0 0) scale(1.2701 1)" font-size="57.2" text-anchor="start" class="i" stroke="#262626" stroke-width="0.8">m</text>
<text transform="translate(55.5 12) scale(0.6800 1)" font-size="86" text-anchor="start" class="i" stroke="#262626" stroke-width="0.8">/</text>
<text transform="translate(81 0) scale(1.1267 1)" font-size="57.2" text-anchor="start" class="i" stroke="#262626" stroke-width="0.8">s</text>
<text transform="translate(107 -22) scale(0.9660 1)" font-size="40.04" text-anchor="start" stroke="#262626" stroke-width="1.2">2</text>
</g>
<rect x="1710.5" y="96.3" width="308.6" height="134" fill="#fff" stroke="#262626" stroke-width="3"/>
<path d="M1723 134.5H1856" stroke="#0072BD" stroke-width="3.2"/>
<circle cx="1789.5" cy="134.5" r="12.9" fill="none" stroke="#0072BD" stroke-width="3.3"/>
<text transform="translate(1868.5 146.8) scale(1.0800 1)" font-size="50" text-anchor="start" class="i k" stroke-width="0.7">f</text>
<text x="1887" y="132.8" font-size="40" text-anchor="middle" class="k" stroke-width="0.7">ˆ</text>
<text transform="translate(1912.5 146.3) scale(0.8500 1)" font-size="51" text-anchor="start" class="k" stroke-width="0.7">(</text>
<text transform="translate(1928.5 146.8) scale(1.0800 1)" font-size="50" text-anchor="start" class="i k" stroke-width="0.7">q</text>
<text x="1953.5" y="146.8" font-size="50" text-anchor="start" class="k" stroke-width="0.7">,</text>
<text transform="translate(1963.5 146.8) scale(1.0800 1)" font-size="50" text-anchor="start" class="i k" stroke-width="0.7">q</text>
<text x="1979" y="147.8" font-size="50" text-anchor="middle" class="k" stroke-width="0.7">˙</text>
<text transform="translate(1988 146.3) scale(0.8500 1)" font-size="51" text-anchor="start" class="k" stroke-width="0.7">)</text>
<path d="M1723 195.4H1856" stroke="#D95319" stroke-width="3.2"/>
<circle cx="1789.5" cy="195.4" r="12.9" fill="none" stroke="#D95319" stroke-width="3.3"/>
<text transform="translate(1868.5 207.7) scale(1.0800 1)" font-size="50" text-anchor="start" class="i k" stroke-width="0.7">f</text>
<text transform="translate(1912.5 207.2) scale(0.8500 1)" font-size="51" text-anchor="start" class="k" stroke-width="0.7">(</text>
<text transform="translate(1928.5 207.7) scale(1.0800 1)" font-size="50" text-anchor="start" class="i k" stroke-width="0.7">q</text>
<text x="1953.5" y="207.7" font-size="50" text-anchor="start" class="k" stroke-width="0.7">,</text>
<text transform="translate(1963.5 207.7) scale(1.0800 1)" font-size="50" text-anchor="start" class="i k" stroke-width="0.7">q</text>
<text x="1979" y="208.7" font-size="50" text-anchor="middle" class="k" stroke-width="0.7">˙</text>
<text transform="translate(1988 207.2) scale(0.8500 1)" font-size="51" text-anchor="start" class="k" stroke-width="0.7">)</text>
<path d="M42 904.5L44 902.7L47 902H56.5L59.5 903L62.5 906L65 910.5V921L62.5 924.5L61.5 925H42Z" fill="#ffffe0"/>
<circle cx="52" cy="915.5" r="7.9" fill="#808080"/>
<g stroke="#262626" stroke-width="3.6" fill="none" stroke-linecap="butt"><rect x="305" y="992.7" width="1741" height="689.3"/><path d="M595.17 1682v-18.8 M595.17 992.7v18.8"/><path d="M885.33 1682v-18.8 M885.33 992.7v18.8"/><path d="M1175.5 1682v-18.8 M1175.5 992.7v18.8"/><path d="M1465.67 1682v-18.8 M1465.67 992.7v18.8"/><path d="M1755.83 1682v-18.8 M1755.83 992.7v18.8"/><path d="M305 1544.14h18.8 M2046 1544.14h-18.8"/><path d="M305 1406.28h18.8 M2046 1406.28h-18.8"/><path d="M305 1268.42h18.8 M2046 1268.42h-18.8"/><path d="M305 1130.56h18.8 M2046 1130.56h-18.8"/></g>
<g id="bottom-data" shape-rendering="crispEdges">
<polyline points="309.5,1527.3 310.8,1527.3 316.61,1526.4 322.41,1471.5 328.21,1528.3 334.02,1541.3 339.82,1555.3 345.62,1565.2 351.43,1424.7 357.23,1559.2 363.03,1567.8 368.84,1433.1 374.64,1493.5 380.44,1556.3 386.25,1499 392.05,1561.2 397.85,1305 403.66,1196.3 409.46,1511.4 415.26,1210.8 421.07,1542.3 426.87,1496.5 432.67,1536.3 438.48,1538.9 444.28,1546.3 450.08,1551.7 455.89,1440 461.69,1562.2 467.49,1546.3 473.3,1561.2 479.1,1554.3 484.9,1515.4 490.71,1559.6 496.51,1407.8 502.31,1512.4 508.12,1496.5 513.92,1551.3 519.72,1263.7 525.53,1421 531.33,1557.2 537.13,1351 542.94,1053.8 548.74,1501.4 554.54,1151.4 560.35,1553.3 566.15,1468.5 571.95,1536.3 577.76,1528.9 583.56,1292 589.36,1484.5 595.17,1073.7 600.97,1465.6 606.77,1540.3 612.58,1555.3 618.38,1207.6 624.18,1544.3 629.99,1529.7 635.79,1560.2 641.59,1537.3 647.4,1023.9 653.2,1042.8 659,1255 664.81,1443.6 670.61,1300.9 676.41,1558.2 682.22,1561.2 688.02,1494.5 693.82,1549.3 699.63,1535.3 705.43,1030.2 711.23,1531.3 717.04,1504.4 722.84,1555.3 728.64,1567.2 734.45,1551.3 740.25,1222.8 746.05,1304.9 751.86,1544.3 757.66,1522.4 763.46,1267 769.27,1566.2 775.07,1453.6 780.87,1525.4 786.68,1393.4 792.48,1550.9 798.28,1501.4 804.09,1529.3 809.89,1556.3 815.69,1479 821.5,1041.8 827.3,1550.3 833.1,1559.2 838.91,1533.3 844.71,1326.8 850.51,1419.7 856.32,1561.2 862.12,1535.3 867.92,1411.7 873.73,1389.4 879.53,1556.3 885.33,1162.4 891.14,1275 896.94,1554.3 902.74,1181.3 908.55,1315.9 914.35,1260.1 920.15,1465.6 925.96,1565.2 931.76,1123.5 937.56,1409.7 943.37,1558.2 949.17,1560.2 954.97,1118.5 960.78,1540.3 966.58,1487.5 972.38,1439.6 978.19,1232.2 983.99,1421.7 989.79,1562.7 995.6,1448.6 1001.4,1513.4 1007.2,1479.5 1013.01,1367.9 1018.81,1564.2 1024.61,1564.2 1030.42,1549.7 1036.22,1559.6 1042.02,1521.4 1047.83,1426.7 1053.63,1560.2 1059.43,1564.8 1065.24,1545.3 1071.04,1565.2 1076.84,1561.6 1082.65,1566.2 1088.45,1513.4 1094.25,1481.5 1100.06,1241 1105.86,1024.9 1111.66,1537.3 1117.47,1560.2 1123.27,1411.7 1129.07,1559.2 1134.88,1177.3 1140.68,1564.2 1146.48,1324.8 1152.29,1399.8 1158.09,1263.5 1163.89,1523.4 1169.7,1562.2 1175.5,1360.3 1181.3,1541.3 1187.11,1527.4 1192.91,1553.3 1198.71,1456.6 1204.52,1536.3 1210.32,1539.3 1216.12,1529.3 1221.93,1544.3 1227.73,1388.2 1233.53,1565.2 1239.34,1171.4 1245.14,1536.3 1250.94,1431.7 1256.75,1566.2 1262.55,1401 1268.35,1078.7 1274.16,1532.3 1279.96,1560.2 1285.76,1530.3 1291.57,1525.4 1297.37,1500.4 1303.17,1490.5 1308.98,1525.8 1314.78,1561.2 1320.58,1524.4 1326.39,1351 1332.19,1287 1337.99,1281.2 1343.8,1508.4 1349.6,1076.1 1355.4,1557.2 1361.21,1515.4 1367.01,1314.9 1372.81,1188.9 1378.62,1540.3 1384.42,1207.6 1390.22,1529.3 1396.03,1348.4 1401.83,1522.4 1407.63,1528 1413.44,1093.6 1419.24,1544.3 1425.04,1401.4 1430.85,1562.8 1436.65,1562.8 1442.45,1545.3 1448.26,1108 1454.06,1466.6 1459.86,1118 1465.67,1334.8 1471.47,1501 1477.27,1497 1483.08,1562.2 1488.88,1521.4 1494.68,1542.3 1500.49,1471.5 1506.29,1169.8 1512.09,1386.8 1517.9,1195.3 1523.7,1109.6 1529.5,1087.3 1535.31,1239.1 1541.11,1551.3 1546.91,1559.2 1552.72,1559.6 1558.52,1187.7 1564.32,1269 1570.13,1552.3 1575.93,1411.7 1581.73,1259 1587.54,1222.8 1593.34,1560.8 1599.14,1328.8 1604.95,1260.1 1610.75,1533.3 1616.55,1545.3 1622.36,1534.3 1628.16,1561.2 1633.96,1161.8 1639.77,1336.8 1645.57,1351 1651.37,1298.9 1657.18,1562.2 1662.98,1562.8 1668.78,1418.7 1674.59,1538.9 1680.39,1090.6 1686.19,1416 1692,1544.3 1697.8,1204.3 1703.6,1548.3 1709.41,1556.3 1715.21,1280.6 1721.01,1517.4 1726.82,1566.2 1732.62,1385.8 1738.42,1121 1744.23,1562.2 1750.03,1269 1755.83,1303 1761.64,1549.3 1767.44,1215.2 1773.24,1517.4 1779.05,1549.3 1784.85,1488.5 1790.65,1559.2 1796.46,1559.2 1802.26,1542.3 1808.06,1565.2 1813.87,1533.3 1819.67,1408.2 1825.47,1545.3 1831.28,1345 1837.08,1545.3 1842.88,1557.2 1848.69,1352 1854.49,1140.5 1860.29,1103.6 1866.1,1378 1871.9,1517.4 1877.7,1543.3 1883.51,1473.5 1889.31,1559.2 1895.11,1489.5 1900.92,1447.6 1906.72,1218.2 1912.52,1561.2 1918.33,1031 1924.13,1017.5 1929.93,1247 1935.74,1362 1941.54,1337 1947.34,1178 1953.15,1056 1958.95,1238.5 1964.75,1423 1970.56,1543.3 1976.36,1427.3 1982.16,1554.3 1987.97,1558.2 1993.77,1125.5 1999.57,1278.8 2005.38,1493.5 2011.18,1526.4 2016.98,1507 2022.79,1565.2 2028.59,1543.3 2034.39,1530.3 2040.2,1523.4 2046,1145.5" fill="none" stroke="#0072BD" stroke-width="3.6" stroke-linejoin="round"/>
<path d="M309.5 1308.3H2046" stroke="#D95319" stroke-width="3.6"/>
</g>
<text transform="translate(305 1756.3) scale(0.9580 1)" font-size="62.6" text-anchor="middle" stroke="#262626" stroke-width="1.2">0</text>
<text transform="translate(595.17 1756.3) scale(0.9580 1)" font-size="62.6" text-anchor="middle" stroke="#262626" stroke-width="1.2">50</text>
<text transform="translate(885.33 1756.3) scale(0.9580 1)" font-size="62.6" text-anchor="middle" stroke="#262626" stroke-width="1.2">100</text>
<text transform="translate(1175.5 1756.3) scale(0.9580 1)" font-size="62.6" text-anchor="middle" stroke="#262626" stroke-width="1.2">150</text>
<text transform="translate(1465.67 1756.3) scale(0.9580 1)" font-size="62.6" text-anchor="middle" stroke="#262626" stroke-width="1.2">200</text>
<text transform="translate(1755.83 1756.3) scale(0.9580 1)" font-size="62.6" text-anchor="middle" stroke="#262626" stroke-width="1.2">250</text>
<text transform="translate(2046 1756.3) scale(0.9580 1)" font-size="62.6" text-anchor="middle" stroke="#262626" stroke-width="1.2">300</text>
<text transform="translate(282.6 1697) scale(0.9580 1)" font-size="62.6" text-anchor="end" stroke="#262626" stroke-width="1.2">0.232</text>
<text transform="translate(282.6 1559.14) scale(0.9580 1)" font-size="62.6" text-anchor="end" stroke="#262626" stroke-width="1.2">0.234</text>
<text transform="translate(282.6 1421.28) scale(0.9580 1)" font-size="62.6" text-anchor="end" stroke="#262626" stroke-width="1.2">0.236</text>
<text transform="translate(282.6 1283.42) scale(0.9580 1)" font-size="62.6" text-anchor="end" stroke="#262626" stroke-width="1.2">0.238</text>
<text transform="translate(282.6 1145.56) scale(0.9580 1)" font-size="62.6" text-anchor="end" stroke="#262626" stroke-width="1.2">0.24</text>
<text transform="translate(282.6 1007.7) scale(0.9580 1)" font-size="62.6" text-anchor="end" stroke="#262626" stroke-width="1.2">0.242</text>
<text transform="translate(1175.5 1841.3) scale(1.0450 1)" font-size="66.5" text-anchor="middle" stroke="#262626" stroke-width="1.2">samples</text>
<g transform="translate(107.6 1480) rotate(-90)">
<text transform="translate(0 1) scale(0.8500 1)" font-size="73.15" text-anchor="start" stroke="#262626" stroke-width="1.2">(</text>
<text transform="translate(25.5 0) scale(1.1246 1)" font-size="66.5" text-anchor="start" class="i" stroke="#262626" stroke-width="0.8">k</text>
<text transform="translate(66 0) scale(0.9406 1)" font-size="66.5" text-anchor="start" class="i" stroke="#262626" stroke-width="0.8">g</text>
<text x="106" y="3.5" font-size="66.5" text-anchor="start" stroke="#262626" stroke-width="1.2">·</text>
<text transform="translate(141 0) scale(1.2166 1)" font-size="66.5" text-anchor="start" class="i" stroke="#262626" stroke-width="0.8">m</text>
<text transform="translate(200.5 1) scale(0.8500 1)" font-size="73.15" text-anchor="start" stroke="#262626" stroke-width="1.2">)</text>
<text transform="translate(225 -21) scale(1.2000 1)" font-size="46.55" text-anchor="start" stroke="#262626" stroke-width="1.2">−</text>
<text transform="translate(260.5 -25) scale(0.9580 1)" font-size="46.55" text-anchor="start" stroke="#262626" stroke-width="1.2">1</text>
</g>
<rect x="1697.1" y="1029.3" width="309.7" height="146.5" fill="#fff" stroke="#262626" stroke-width="3.7"/>
<path d="M1711 1068.9H1864" stroke="#0072BD" stroke-width="3.6"/>
<text x="1874.5" y="1081.4" font-size="57" text-anchor="start" class="i k" stroke-width="0.7">g</text>
<text x="1889" y="1075.9" font-size="45.6" text-anchor="middle" class="k" stroke-width="0.7">ˆ</text>
<text transform="translate(1923 1083.9) scale(0.8500 1)" font-size="61.56" text-anchor="start" class="k" stroke-width="0.7">(</text>
<text transform="translate(1942.5 1081.4) scale(1.1300 1)" font-size="53.01" text-anchor="start" class="k" stroke-width="0.7">q</text>
<text transform="translate(1971 1083.9) scale(0.8500 1)" font-size="61.56" text-anchor="start" class="k" stroke-width="0.7">)</text>
<path d="M1711 1135.8H1864" stroke="#D95319" stroke-width="3.6"/>
<text x="1874.5" y="1148.3" font-size="57" text-anchor="start" class="i k" stroke-width="0.7">g</text>
<text transform="translate(1923 1150.8) scale(0.8500 1)" font-size="61.56" text-anchor="start" class="k" stroke-width="0.7">(</text>
<text transform="translate(1942.5 1148.3) scale(1.1300 1)" font-size="53.01" text-anchor="start" class="k" stroke-width="0.7">q</text>
<text transform="translate(1971 1150.8) scale(0.8500 1)" font-size="61.56" text-anchor="start" class="k" stroke-width="0.7">)</text>
</svg></body></html>
